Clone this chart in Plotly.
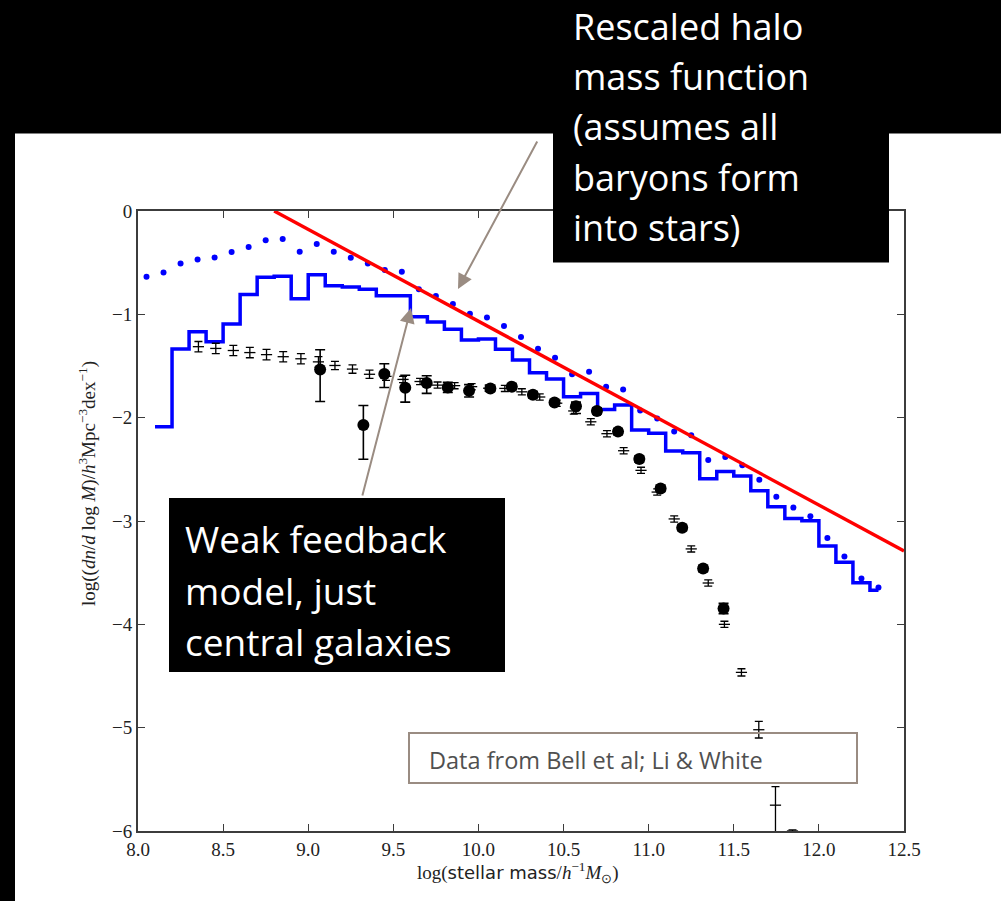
import plotly.graph_objects as go

# ---------------- data ----------------
# Rescaled halo mass function (all baryons in stars)
halo_x = [8.8, 12.5]
halo_y = [0.0, -3.29]

# Weak feedback model, all galaxies (dotted points)
model_pts_x = [8.05, 8.15, 8.25, 8.35, 8.45, 8.55, 8.65, 8.75, 8.85, 8.95,
               9.05, 9.15, 9.25, 9.35, 9.45, 9.55, 9.65, 9.75, 9.85, 9.95,
               10.05, 10.15, 10.25, 10.35, 10.45, 10.55, 10.65, 10.75, 10.85, 10.95,
               11.05, 11.15, 11.25, 11.35, 11.45, 11.55, 11.65, 11.75, 11.85, 11.95,
               12.05, 12.15, 12.25, 12.35]
model_pts_y = [-0.636, -0.594, -0.507, -0.470, -0.450, -0.397, -0.348, -0.284, -0.271, -0.394,
               -0.320, -0.394, -0.452, -0.507, -0.571, -0.588, -0.758, -0.823, -0.900, -0.995,
               -1.030, -1.113, -1.220, -1.333, -1.420, -1.580, -1.555, -1.700, -1.727, -1.930,
               -2.007, -2.133, -2.170, -2.410, -2.380, -2.460, -2.600, -2.765, -2.870, -2.955,
               -3.165, -3.343, -3.556, -3.643]

# Weak feedback model, central galaxies only (histogram; left bin edges + closing edge)
model_edges = [8.1, 8.2, 8.3, 8.4, 8.5, 8.6, 8.7, 8.8, 8.9, 9.0,
               9.1, 9.2, 9.3, 9.4, 9.5, 9.6, 9.7, 9.8, 9.9, 10.0,
               10.1, 10.2, 10.3, 10.4, 10.5, 10.6, 10.7, 10.8, 10.9, 11.0,
               11.1, 11.2, 11.3, 11.4, 11.5, 11.6, 11.7, 11.8, 11.9, 12.0,
               12.1, 12.2, 12.3, 12.35]
model_hist = [-2.088, -1.336, -1.168, -1.265, -1.094, -0.807, -0.642, -0.632, -0.849, -0.616,
              -0.723, -0.736, -0.758, -0.820, -0.820, -1.023, -1.075, -1.145, -1.249, -1.239,
              -1.339, -1.442, -1.565, -1.626, -1.797, -1.765, -1.920, -1.878, -2.120, -2.152,
              -2.323, -2.340, -2.590, -2.520, -2.565, -2.707, -2.862, -2.975, -2.998, -3.243,
              -3.400, -3.598, -3.669]

# Bell et al. stellar mass function (filled circles)
bell_x = [9.07, 9.324, 9.447, 9.57, 9.696, 9.82, 9.945, 10.07, 10.196, 10.32,
          10.447, 10.573, 10.696, 10.82, 10.945, 11.07, 11.197, 11.32, 11.44]
bell_y = [-1.533, -2.072, -1.578, -1.710, -1.665, -1.707, -1.740, -1.717, -1.700, -1.778,
          -1.853, -1.890, -1.935, -2.135, -2.400, -2.685, -3.065, -3.460, -3.846]
bell_err_up = [0.19, 0.19, 0.10, 0.12, 0.07, 0.05, 0.06, 0.03, 0.03, 0.03,
               0.02, 0.04, 0.03, 0.03, 0.03, 0.03, 0.03, 0.03, 0.05]
bell_err_dn = [0.31, 0.33, 0.13, 0.14, 0.10, 0.05, 0.06, 0.03, 0.03, 0.03,
               0.02, 0.07, 0.03, 0.03, 0.03, 0.03, 0.03, 0.03, 0.05]

# Li & White stellar mass function (small markers)
li_x = [8.355, 8.457, 8.56, 8.657, 8.755, 8.853, 8.957, 9.06, 9.157, 9.26,
        9.36, 9.457, 9.557, 9.657, 9.76, 9.86, 9.96, 10.06, 10.155, 10.255,
        10.36, 10.46, 10.56, 10.66, 10.755, 10.853, 10.955, 11.05, 11.15, 11.25,
        11.35, 11.445, 11.545, 11.647, 11.745, 11.845]
li_y = [-1.313, -1.330, -1.350, -1.370, -1.390, -1.410, -1.430, -1.460, -1.495, -1.530,
        -1.580, -1.600, -1.630, -1.650, -1.685, -1.690, -1.700, -1.715, -1.717, -1.750,
        -1.800, -1.860, -1.935, -2.040, -2.155, -2.320, -2.510, -2.720, -2.980, -3.270,
        -3.600, -4.000, -4.465, -5.020, -5.750, -6.000]
li_err_up = [0.05, 0.05, 0.05, 0.05, 0.05, 0.05, 0.05, 0.05, 0.04, 0.04,
             0.04, 0.04, 0.03, 0.03, 0.03, 0.03, 0.03, 0.03, 0.03, 0.03,
             0.03, 0.03, 0.03, 0.03, 0.03, 0.03, 0.03, 0.03, 0.03, 0.03,
             0.03, 0.03, 0.035, 0.08, 0.18, 0.01]
li_err_dn = [0.05, 0.05, 0.05, 0.05, 0.05, 0.05, 0.05, 0.05, 0.04, 0.04,
             0.04, 0.04, 0.03, 0.03, 0.03, 0.03, 0.03, 0.03, 0.03, 0.03,
             0.03, 0.03, 0.03, 0.03, 0.03, 0.03, 0.03, 0.03, 0.03, 0.03,
             0.03, 0.03, 0.035, 0.08, 0.45, 0.01]

x_ticks = [8.0, 8.5, 9.0, 9.5, 10.0, 10.5, 11.0, 11.5, 12.0, 12.5]
x_tick_text = ["8.0", "8.5", "9.0", "9.5", "10.0", "10.5", "11.0", "11.5", "12.0", "12.5"]
y_ticks = [0, -1, -2, -3, -4, -5, -6]
y_tick_text = ["0", "\u22121", "\u22122", "\u22123", "\u22124", "\u22125", "\u22126"]

# ---------------- layout geometry ----------------
W, H = 1001, 901
PL, PR, PT, PB = 138, 904, 211, 831   # plot-area edges in pixels


def fx(px):
    return (px - PL) / (PR - PL)


def fy(py):
    return (PB - py) / (PB - PT)


SERIF = "Liberation Serif, Times New Roman, serif"
SANS = "Open Sans, sans-serif"
FRAME = "#3c3c3c"
ARROW = "#9a8c82"

fig = go.Figure()

fig.add_trace(go.Scatter(
    x=model_edges, y=model_hist + [model_hist[-1]],
    mode="lines", line=dict(color="#0000ff", width=3.5, shape="hv"),
    hoverinfo="skip"))

fig.add_trace(go.Scatter(
    x=model_pts_x, y=model_pts_y, mode="markers",
    marker=dict(color="#0000ff", size=6)))

fig.add_trace(go.Scatter(
    x=halo_x, y=halo_y, mode="lines",
    line=dict(color="#ff0000", width=3.4)))

fig.add_trace(go.Scatter(
    x=li_x, y=li_y, mode="markers",
    marker=dict(symbol="line-ew", size=8, color="black",
                line=dict(color="black", width=1.3)),
    error_y=dict(type="data", symmetric=False, array=li_err_up, arrayminus=li_err_dn,
                 color="black", thickness=1.3, width=4)))

fig.add_trace(go.Scatter(
    x=bell_x, y=bell_y, mode="markers",
    marker=dict(symbol="circle", size=12, color="black"),
    error_y=dict(type="data", symmetric=False, array=bell_err_up, arrayminus=bell_err_dn,
                 color="black", thickness=1.6, width=5)))

axis_common = dict(
    showgrid=False, zeroline=False, showline=True, linecolor=FRAME, linewidth=1.8,
    mirror="ticks", ticks="inside", ticklen=7, tickwidth=1, tickcolor=FRAME,
    tickfont=dict(family=SERIF, size=19, color="#222222"))

fig.update_xaxes(range=[8.0, 12.5], tickvals=x_ticks, ticktext=x_tick_text, **axis_common)
fig.update_yaxes(range=[-6, 0], tickvals=y_ticks, ticktext=y_tick_text, **axis_common)

shapes = [
    # dark slide background bands
    dict(type="rect", xref="paper", yref="paper", x0=fx(0), x1=fx(W), y0=fy(0), y1=fy(133.5),
         fillcolor="black", line=dict(width=0), layer="above"),
    dict(type="rect", xref="paper", yref="paper", x0=fx(0), x1=fx(15), y0=fy(0), y1=fy(H),
         fillcolor="black", line=dict(width=0), layer="above"),
    # callout boxes
    dict(type="rect", xref="paper", yref="paper", x0=fx(553), x1=fx(889), y0=fy(0), y1=fy(262.5),
         fillcolor="black", line=dict(width=0), layer="above"),
    dict(type="rect", xref="paper", yref="paper", x0=fx(169), x1=fx(505), y0=fy(498), y1=fy(672),
         fillcolor="black", line=dict(width=0), layer="above"),
    dict(type="rect", xref="paper", yref="paper", x0=fx(409), x1=fx(857), y0=fy(733), y1=fy(783),
         fillcolor="rgba(0,0,0,0)", line=dict(color=ARROW, width=2), layer="above"),
]

annotations = []


def text_line(txt, left, baseline, size, color, family=SANS):
    annotations.append(dict(
        xref="paper", yref="paper", x=fx(left), y=fy(baseline - 0.36 * size),
        xanchor="left", yanchor="middle", showarrow=False, text=txt,
        font=dict(family=family, size=size, color=color)))


for i, line in enumerate(["Rescaled halo", "mass function", "(assumes all",
                          "baryons form", "into stars)"]):
    text_line(line, 571, 39.5 + 50.2 * i, 36, "white")

for i, line in enumerate(["Weak feedback", "model, just", "central galaxies"]):
    text_line(line, 183, 551.7 + 51.7 * i, 37, "white")

text_line("Data from Bell et al; Li &amp; White", 427, 768, 23.5, "#505050")

# arrows from the callouts
for tip, tail in [((458, 289), (538, 140)), ((411, 308), (362, 497))]:
    annotations.append(dict(
        xref="paper", yref="paper", x=fx(tip[0]), y=fy(tip[1]),
        ax=tail[0] - tip[0], ay=tail[1] - tip[1], axref="pixel", ayref="pixel",
        showarrow=True, arrowhead=2, arrowsize=1.5, arrowwidth=2, arrowcolor=ARROW,
        text=""))

# axis titles
annotations.append(dict(
    xref="paper", yref="paper", x=fx(518), y=fy(872), xanchor="center", yanchor="middle",
    showarrow=False,
    text="log(<span style=\"font-family:'DejaVu Sans';font-size:18px\">stellar mass</span>"
         "/<i>h</i><sup>\u22121</sup><i>M</i><sub>\u2299</sub>)",
    font=dict(family=SERIF, size=19, color="#222222")))
annotations.append(dict(
    xref="paper", yref="paper", x=fx(87), y=fy(484), xanchor="center", yanchor="middle",
    showarrow=False, textangle=-90,
    text="log((<i>dn</i>/<i>d</i> log <i>M</i>)/<i>h</i><sup>3</sup>Mpc<sup>\u22123</sup>"
         "dex<sup>\u22121</sup>)",
    font=dict(family=SERIF, size=19, color="#222222")))

fig.update_layout(
    width=W, height=H,
    margin=dict(l=PL, r=W - PR, t=PT, b=H - PB, pad=0),
    paper_bgcolor="white", plot_bgcolor="white",
    showlegend=False, shapes=shapes, annotations=annotations)

fig.write_html("out.html")
